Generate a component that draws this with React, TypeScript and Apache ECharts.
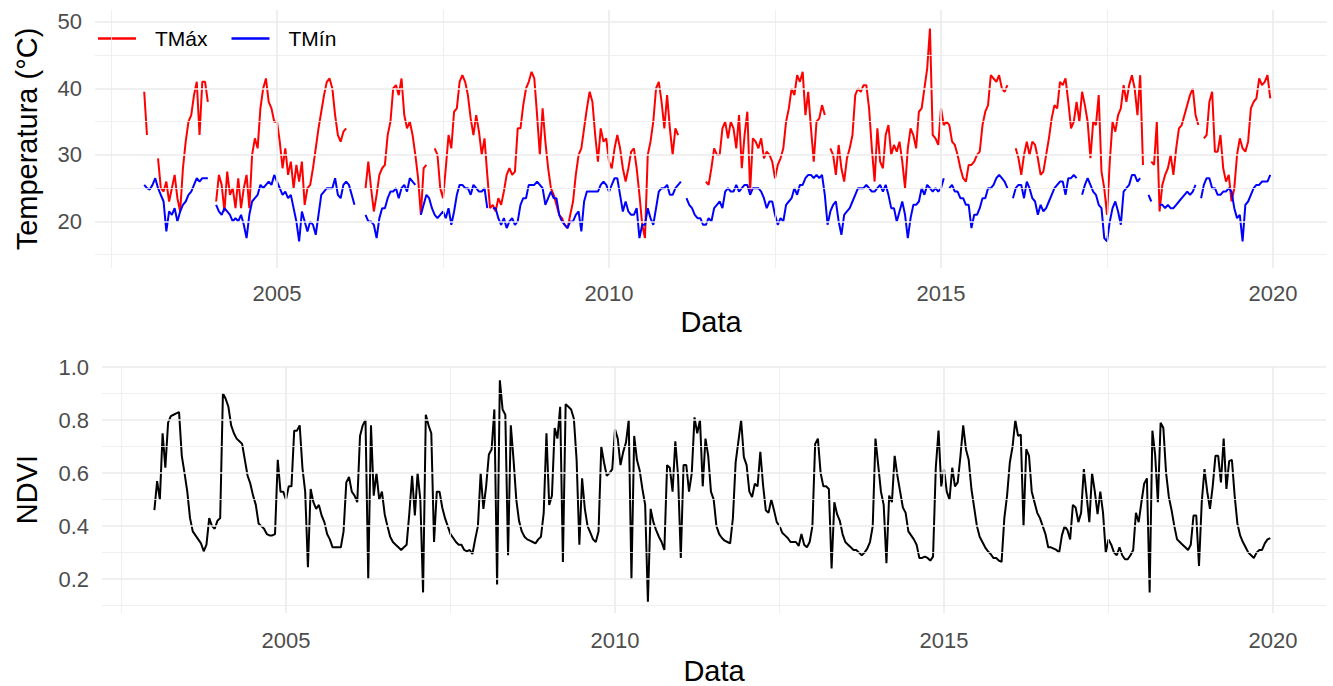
import React, { useEffect, useRef } from "react";
import * as echarts from "echarts";

// Half-monthly samples, 24 per year, first sample at the start of 2003.
const START_YEAR = 2003;
const STEPS_PER_YEAR = 24;

const tmaxByYear: (number | null)[][] = [
  [39.5, 33, null, null, null, 29.5, 25, 24.5, 26, 23, 25, 27, 23.5, 21.5, 28, 32, 35, 36, 39, 41, 33, 41, 41, 38],
  [null, null, 23, 27, 25.5, 21.5, 27.5, 24, 25, 22, 26.5, 22, 25, 27, 22, 30, 32.5, 31, 37, 40, 41.5, 38, 37, 35],
  [35, 32, 28, 31, 27, 29, 25, 28.5, 26, 29, 22.5, 25, 25.5, 28, 31, 34, 36.5, 39, 41, 41.5, 40, 36, 33, 32],
  [33.5, 34, null, null, null, null, null, null, 25, 29, 25, 21.5, 24, 27, 28, 28.5, 33, 35, 40, 40.5, 39, 41.5, 36, 34],
  [35, 33, 30, 26.5, 21, 28, 28.5, null, null, 31, 30, 25, 23.5, 28, 33, 31, 36.5, 37, 41, 42, 41, 39, 35.5, 33],
  [36, 33.5, 30, 32.5, 27, 22, 22.5, 21.5, 23.5, 22.5, 24.5, 27, 28, 27, 27.5, 34, 34, 37.5, 40, 41, 42.5, 41.5, 36, 30],
  [37, 32, 28, 25, 24, 22.5, 21, 20.5, 19.5, 19, 21, 23, 27, 30, 31, 34, 37, 39.5, 38, 33, 29, 34, 32, 32.5],
  [29, 28, 31, 33, 31, 28, 26, 28, 30.5, 31, 28, 24, 19.5, 17.5, 30, 32, 35, 40, 41, 38, 34, 39, 34, 30],
  [34, 33, null, null, null, null, null, null, null, null, null, 26, 25.5, 28, 31, 30, 30, 34, 35, 32.5, 35, 34, 31, 36],
  [28, 33, 36.5, 24.5, 32.5, 32, 31, 32.5, 29.5, 30.5, 30, 29, 26.5, 28.5, 29.5, 31, 35, 37, 40, 39, 42, 41, 42.5, 36],
  [39.5, 34, 29, 35, 35.5, 37.5, 36, null, 31, 30, 27, 31.5, 28, 26, 29.5, 31, 33, 39, 40, 39.5, 40.5, 40.5, 37, 31],
  [26, 34, 29, 28, 33, 34.5, 30, 31.5, 30.5, 32, 29, 25, 31, 34, 33, 31, 36.5, 37, 40, 43, 49, 33, 32.5, 31.5],
  [37, 34.5, 35, 34.5, 32, 31.5, 30, 28, 26.5, 26, 28.5, 28.5, 29, 30, 30.5, 34.5, 36.5, 37.5, 42, 41.5, 41, 42, 40, 39.5],
  [40.5, null, null, 31, 29.5, 27, 30, 32, 30, 32, 31.5, 29.5, 27, 27.5, 30, 32.5, 35.5, 37.5, 37, 41, 40.5, 41.5, 38, 34],
  [35, 38, 35, 39.5, 37.5, 35, 29.5, 35, 34.5, 39, 27.5, 25, 21, 29, 35, 33.5, 36, 37, 40.5, 38, 40.5, 42, 40, 36],
  [42, 28.5, null, null, 29, 28.5, 35, 21.5, 25.5, 27, 28, 30, 27, 31, 34, 34.5, 36, 37.5, 39, 40, 36, 34.5, null, 32.5],
  [33, 38, 39.5, 30.5, 30.5, 33, 28, 26, 27, 23, 25, 30, 32.5, 31, 30.5, 32, 37, 38, 38.5, 41.5, 40.5, 41, 42, 38.5],
];

const tminByYear: (number | null)[][] = [
  [25.5, 25, 24.8, 25.5, 26.5, 25, 24, 23, 18.5, 21.5, 21, 22, 20, 21.5, 22.5, 23, 24, 24.5, 25.5, 26.5, 26, 26.5, 26.5, 26.5],
  [null, null, 22.5, 21.5, 21, 22, 21.5, 21, 20, 20.5, 20, 21, 19.5, 17.5, 21, 23, 23.5, 24, 25.5, 25, 25.5, 26, 25.5, 27],
  [26, 25, 24, 24.5, 23.5, 24, 22, 20, 17, 21.5, 20, 18.5, 20, 19.5, 18, 21, 24, 24.5, 25, 25, 25, 26.5, 24, 23.5],
  [25.5, 26, 25.5, 24, 22.5, null, null, null, 21, 20, 20, 19.5, 17.5, 20.5, 22, 22, 23.5, 24.5, 24.5, 25, 23.5, 25, 25.5, 24.5],
  [26.5, 26, 25.5, null, 21, 22.5, 24, 23.5, 22, 21, 20.5, 21, 21.5, 20.5, 22, 19.5, 21.5, 24, 25.5, 25.5, 25, 25, 24, 25.5],
  [25, 24.5, 24.5, 25, 22, null, 22, 22, 20.5, 19.5, 20.5, 19, 20, 20.5, 19.5, 20, 22.5, 23.5, 23.5, 25.5, 25.5, 25.5, 26, 25.5],
  [25, 22.5, 23.5, 24.5, 23.5, 23.5, 21, 20, 19.5, 19, 20, 20, 21, 21.5, 18.5, 23, 24.5, 24.5, 24.5, 24.5, 24.5, 25.5, 26, 25.5],
  [24.5, 25.5, 26.5, 26.5, 24, 21.5, 23, 21.5, 21, 21, 22, 17.5, 19.5, 19.5, 22, 20.5, 19.5, 22, 24.5, 25, 25, 25.5, 24, 24],
  [25, 25.5, 26, null, 23.5, 22.5, 22, 21, 20.5, 20.5, 19.5, 19.5, 20.5, 20, 22, 22.5, 23, 22, 24.5, 25, 24.5, 24.5, 25.5, 24.5],
  [25, 25.5, 25.5, 24, 25, 25, 25, 24.5, 23.5, 22, 23, 23, 21, 19.5, 20.5, 20, 22.5, 23, 23.5, 25, 24, 25.5, 25.5, 26.5],
  [27, 27, 26.5, 27, 26.5, 27, 24, 19.5, 21.5, 22.5, 23, 20, 18, 21, 21.5, 22, 23, 24, 25, 25, 25, 25.5, 25, 24.5],
  [24.5, 25, 25.5, 24.5, 25.5, 24, 22, 22, 20, 21.5, 23, 21, 17.5, 20.5, 22.5, 22.5, 23, 25, 24, 25.5, 25, 24.5, 25, 24.5],
  [25, 26.5, null, 25, 25.5, 24.5, 24.5, 23.5, 23.5, 22.5, 22.5, 19, 21, 21, 22, 23.5, 23.5, 25, 25, 25.5, 26.5, 27, 26.5, 26],
  [25, null, 23.5, 25, 25.5, 25.5, 23.5, 26, 25, 23.5, 23, 21, 22.5, 21.5, 22, 23, 24, 25, 25.5, 26, 26, 24, 26.5, 26.5],
  [27, 26.5, null, 24, 25.5, 26.5, 25.5, 24.5, 24, 22.5, 22, 17.5, 17, 20, 22, 23, 21.5, 19.5, 24.5, 25, 25.5, 27, 27, 26],
  [26.5, null, null, 24, 23, null, null, 22.5, 22.5, 22, 22.5, 22, 22, 22.5, 23, 23.5, 24, 24.5, 24, 24.5, 25.5, null, 23.5, 25.5],
  [26.5, 26.5, 25, 25, 24, 24, 24.5, 24.5, 25, 24.5, 22, 20.5, 21, 17, 22.5, 23, 24, 25, 25.5, 25.5, 26, 26, 26, 27],
];

const ndviByYear: number[][] = [
  [0.46, 0.57, 0.5, 0.75, 0.62, 0.79, 0.815, 0.82, 0.825, 0.83, 0.665, 0.6, 0.53, 0.43, 0.38, 0.365, 0.35, 0.335, 0.305, 0.33, 0.43, 0.4, 0.39, 0.42],
  [0.43, 0.9, 0.88, 0.85, 0.78, 0.75, 0.73, 0.72, 0.71, 0.65, 0.59, 0.56, 0.515, 0.48, 0.41, 0.4, 0.39, 0.37, 0.365, 0.365, 0.37, 0.65, 0.53, 0.53],
  [0.5, 0.55, 0.55, 0.76, 0.76, 0.78, 0.62, 0.53, 0.245, 0.54, 0.49, 0.465, 0.48, 0.44, 0.415, 0.37, 0.35, 0.32, 0.32, 0.32, 0.32, 0.38, 0.565, 0.585],
  [0.53, 0.515, 0.49, 0.74, 0.78, 0.8, 0.2, 0.78, 0.515, 0.6, 0.5, 0.53, 0.445, 0.4, 0.36, 0.34, 0.33, 0.32, 0.31, 0.32, 0.33, 0.45, 0.59, 0.44],
  [0.6, 0.5, 0.15, 0.82, 0.78, 0.75, 0.34, 0.53, 0.53, 0.47, 0.43, 0.4, 0.37, 0.355, 0.34, 0.33, 0.33, 0.31, 0.305, 0.31, 0.295, 0.35, 0.4, 0.6],
  [0.465, 0.55, 0.67, 0.69, 0.84, 0.18, 0.95, 0.84, 0.82, 0.29, 0.78, 0.65, 0.5, 0.42, 0.38, 0.36, 0.35, 0.345, 0.34, 0.335, 0.35, 0.36, 0.45, 0.75],
  [0.48, 0.515, 0.77, 0.73, 0.85, 0.265, 0.86, 0.85, 0.84, 0.805, 0.65, 0.33, 0.58, 0.465, 0.4, 0.375, 0.35, 0.34, 0.38, 0.7, 0.64, 0.59, 0.6, 0.615],
  [0.765, 0.73, 0.63, 0.68, 0.715, 0.8, 0.2, 0.74, 0.65, 0.61, 0.54, 0.48, 0.115, 0.465, 0.415, 0.385, 0.36, 0.34, 0.31, 0.63, 0.62, 0.53, 0.72, 0.59],
  [0.28, 0.63, 0.63, 0.53, 0.6, 0.81, 0.75, 0.8, 0.55, 0.73, 0.665, 0.53, 0.5, 0.4, 0.37, 0.355, 0.345, 0.34, 0.335, 0.43, 0.64, 0.72, 0.8, 0.66],
  [0.63, 0.53, 0.51, 0.56, 0.55, 0.68, 0.555, 0.46, 0.45, 0.5, 0.46, 0.415, 0.4, 0.375, 0.365, 0.355, 0.34, 0.34, 0.34, 0.325, 0.37, 0.33, 0.32, 0.34],
  [0.4, 0.71, 0.73, 0.6, 0.55, 0.55, 0.54, 0.24, 0.49, 0.445, 0.42, 0.37, 0.34, 0.33, 0.32, 0.31, 0.31, 0.3, 0.29, 0.3, 0.315, 0.34, 0.4, 0.73],
  [0.63, 0.53, 0.48, 0.26, 0.515, 0.49, 0.665, 0.59, 0.53, 0.47, 0.45, 0.38, 0.365, 0.35, 0.33, 0.28, 0.28, 0.285, 0.28, 0.27, 0.285, 0.62, 0.76, 0.55],
  [0.615, 0.53, 0.5, 0.62, 0.55, 0.565, 0.665, 0.78, 0.69, 0.65, 0.54, 0.47, 0.4, 0.36, 0.34, 0.32, 0.305, 0.295, 0.28, 0.28, 0.27, 0.265, 0.43, 0.515],
  [0.64, 0.7, 0.8, 0.74, 0.745, 0.4, 0.69, 0.665, 0.53, 0.49, 0.45, 0.43, 0.4, 0.37, 0.32, 0.32, 0.315, 0.31, 0.3, 0.365, 0.4, 0.385, 0.35, 0.48],
  [0.47, 0.415, 0.45, 0.615, 0.515, 0.415, 0.6, 0.53, 0.445, 0.53, 0.45, 0.3, 0.35, 0.33, 0.3, 0.29, 0.32, 0.29, 0.275, 0.275, 0.29, 0.31, 0.45, 0.415],
  [0.49, 0.56, 0.58, 0.15, 0.76, 0.67, 0.49, 0.79, 0.77, 0.6, 0.51, 0.46, 0.4, 0.35, 0.34, 0.33, 0.32, 0.31, 0.33, 0.44, 0.44, 0.25, 0.49, 0.615],
  [0.53, 0.465, 0.55, 0.665, 0.665, 0.565, 0.73, 0.54, 0.645, 0.65, 0.515, 0.41, 0.365, 0.34, 0.32, 0.3, 0.29, 0.28, 0.3, 0.31, 0.31, 0.335, 0.35, 0.355],
];

// Axis ticks and grid lines
const yearLabels = [2005, 2010, 2015, 2020];
const yearMinor = [2002.5, 2007.5, 2012.5, 2017.5];
const tempLabels = [20, 30, 40, 50];
const tempMinor = [15, 25, 35, 45];
const ndviLabels = [0.2, 0.4, 0.6, 0.8, 1.0];
const ndviMinor = [0.1, 0.3, 0.5, 0.7, 0.9];

const FONT = "'Liberation Sans', Arial, Helvetica, sans-serif";
const GRID_COLOR = "#EBEBEB";

function toPairs(rows: (number | null)[][]) {
  return rows.flat().map((v, i) => [START_YEAR + i / STEPS_PER_YEAR, v]);
}

function gridLines(idx: number, xMin: number, yMin: number, xMajor: number[], xMinor: number[], yMajor: number[], yMinor: number[]) {
  const major = { color: GRID_COLOR, width: 1.6, type: "solid" as const };
  const minor = { color: GRID_COLOR, width: 0.8, type: "solid" as const };
  return {
    type: "line",
    xAxisIndex: idx,
    yAxisIndex: idx,
    data: [[xMin, yMin]],
    showSymbol: false,
    silent: true,
    z: 1,
    lineStyle: { opacity: 0 },
    markLine: {
      silent: true,
      symbol: ["none", "none"],
      label: { show: false },
      emphasis: { disabled: true },
      data: [
        ...xMinor.map((v) => ({ xAxis: v, lineStyle: minor })),
        ...yMinor.map((v) => ({ yAxis: v, lineStyle: minor })),
        ...xMajor.map((v) => ({ xAxis: v, lineStyle: major })),
        ...yMajor.map((v) => ({ yAxis: v, lineStyle: major })),
      ],
    },
  };
}

const TOP = { left: 95, right: 6, top: 10, height: 258, xMin: 2002.259, xMax: 2020.813, yMin: 13.0, yMax: 51.8 };
const BOT = { left: 102, right: 7, top: 366, height: 248, xMin: 2002.204, xMax: 2020.805, yMin: 0.0723, yMax: 1.0038 };

export default function App() {
  const ref = useRef<HTMLDivElement>(null);

  useEffect(() => {
    if (!ref.current) return;
    const chart = echarts.init(ref.current, undefined, { renderer: "svg" });
    const tickLabel = { color: "#4D4D4D", fontSize: 22, fontFamily: FONT };
    const title = { color: "#000000", fontSize: 29, fontFamily: FONT };
    const hidden = { axisLine: { show: false }, axisTick: { show: false }, splitLine: { show: false } };

    chart.setOption({
      animation: false,
      backgroundColor: "#FFFFFF",
      textStyle: { fontFamily: FONT },
      legend: {
        data: ["TMáx", "TMín"],
        left: 98,
        top: 28,
        padding: 0,
        icon: "rect",
        itemWidth: 38,
        itemHeight: 2.5,
        itemGap: 24,
        textStyle: { fontSize: 21, color: "#000000", fontFamily: FONT, padding: [0, 0, 0, 14] },
      },
      grid: [
        { left: TOP.left, right: TOP.right, top: TOP.top, height: TOP.height },
        { left: BOT.left, right: BOT.right, top: BOT.top, height: BOT.height },
      ],
      xAxis: [
        {
          gridIndex: 0, type: "value", min: TOP.xMin, max: TOP.xMax, ...hidden,
          axisLabel: { ...tickLabel, customValues: yearLabels, formatter: (v: number) => String(v), margin: 14 },
          name: "Data", nameLocation: "middle", nameGap: 39, nameTextStyle: title,
        },
        {
          gridIndex: 1, type: "value", min: BOT.xMin, max: BOT.xMax, ...hidden,
          axisLabel: { ...tickLabel, customValues: yearLabels, formatter: (v: number) => String(v), margin: 16 },
          name: "Data", nameLocation: "middle", nameGap: 43, nameTextStyle: title,
        },
      ],
      yAxis: [
        {
          gridIndex: 0, type: "value", min: TOP.yMin, max: TOP.yMax, ...hidden,
          axisLabel: { ...tickLabel, customValues: tempLabels, margin: 13 },
          name: "Temperatura (°C)", nameLocation: "middle", nameRotate: 90, nameGap: 54, nameTextStyle: title,
        },
        {
          gridIndex: 1, type: "value", min: BOT.yMin, max: BOT.yMax, ...hidden,
          axisLabel: { ...tickLabel, customValues: ndviLabels, formatter: (v: number) => v.toFixed(1), margin: 13 },
          name: "NDVI", nameLocation: "middle", nameRotate: 90, nameGap: 61, nameTextStyle: title,
        },
      ],
      series: [
        gridLines(0, TOP.xMin, TOP.yMin, yearLabels, yearMinor, tempLabels, tempMinor),
        gridLines(1, BOT.xMin, BOT.yMin, yearLabels, yearMinor, ndviLabels, ndviMinor),
        {
          name: "TMáx", type: "line", xAxisIndex: 0, yAxisIndex: 0, z: 3,
          data: toPairs(tmaxByYear), showSymbol: false, connectNulls: false,
          color: "#FF0000", lineStyle: { color: "#FF0000", width: 2 },
        },
        {
          name: "TMín", type: "line", xAxisIndex: 0, yAxisIndex: 0, z: 3,
          data: toPairs(tminByYear), showSymbol: false, connectNulls: false,
          color: "#0000FF", lineStyle: { color: "#0000FF", width: 2 },
        },
        {
          name: "NDVI", type: "line", xAxisIndex: 1, yAxisIndex: 1, z: 3,
          data: toPairs(ndviByYear), showSymbol: false,
          color: "#000000", lineStyle: { color: "#000000", width: 2 },
        },
      ],
    });

    return () => chart.dispose();
  }, []);

  return (
    <div
      ref={ref}
      style={{ position: "absolute", left: 0, top: 0, width: 1333, height: 686, background: "#FFFFFF" }}
    />
  );
}
